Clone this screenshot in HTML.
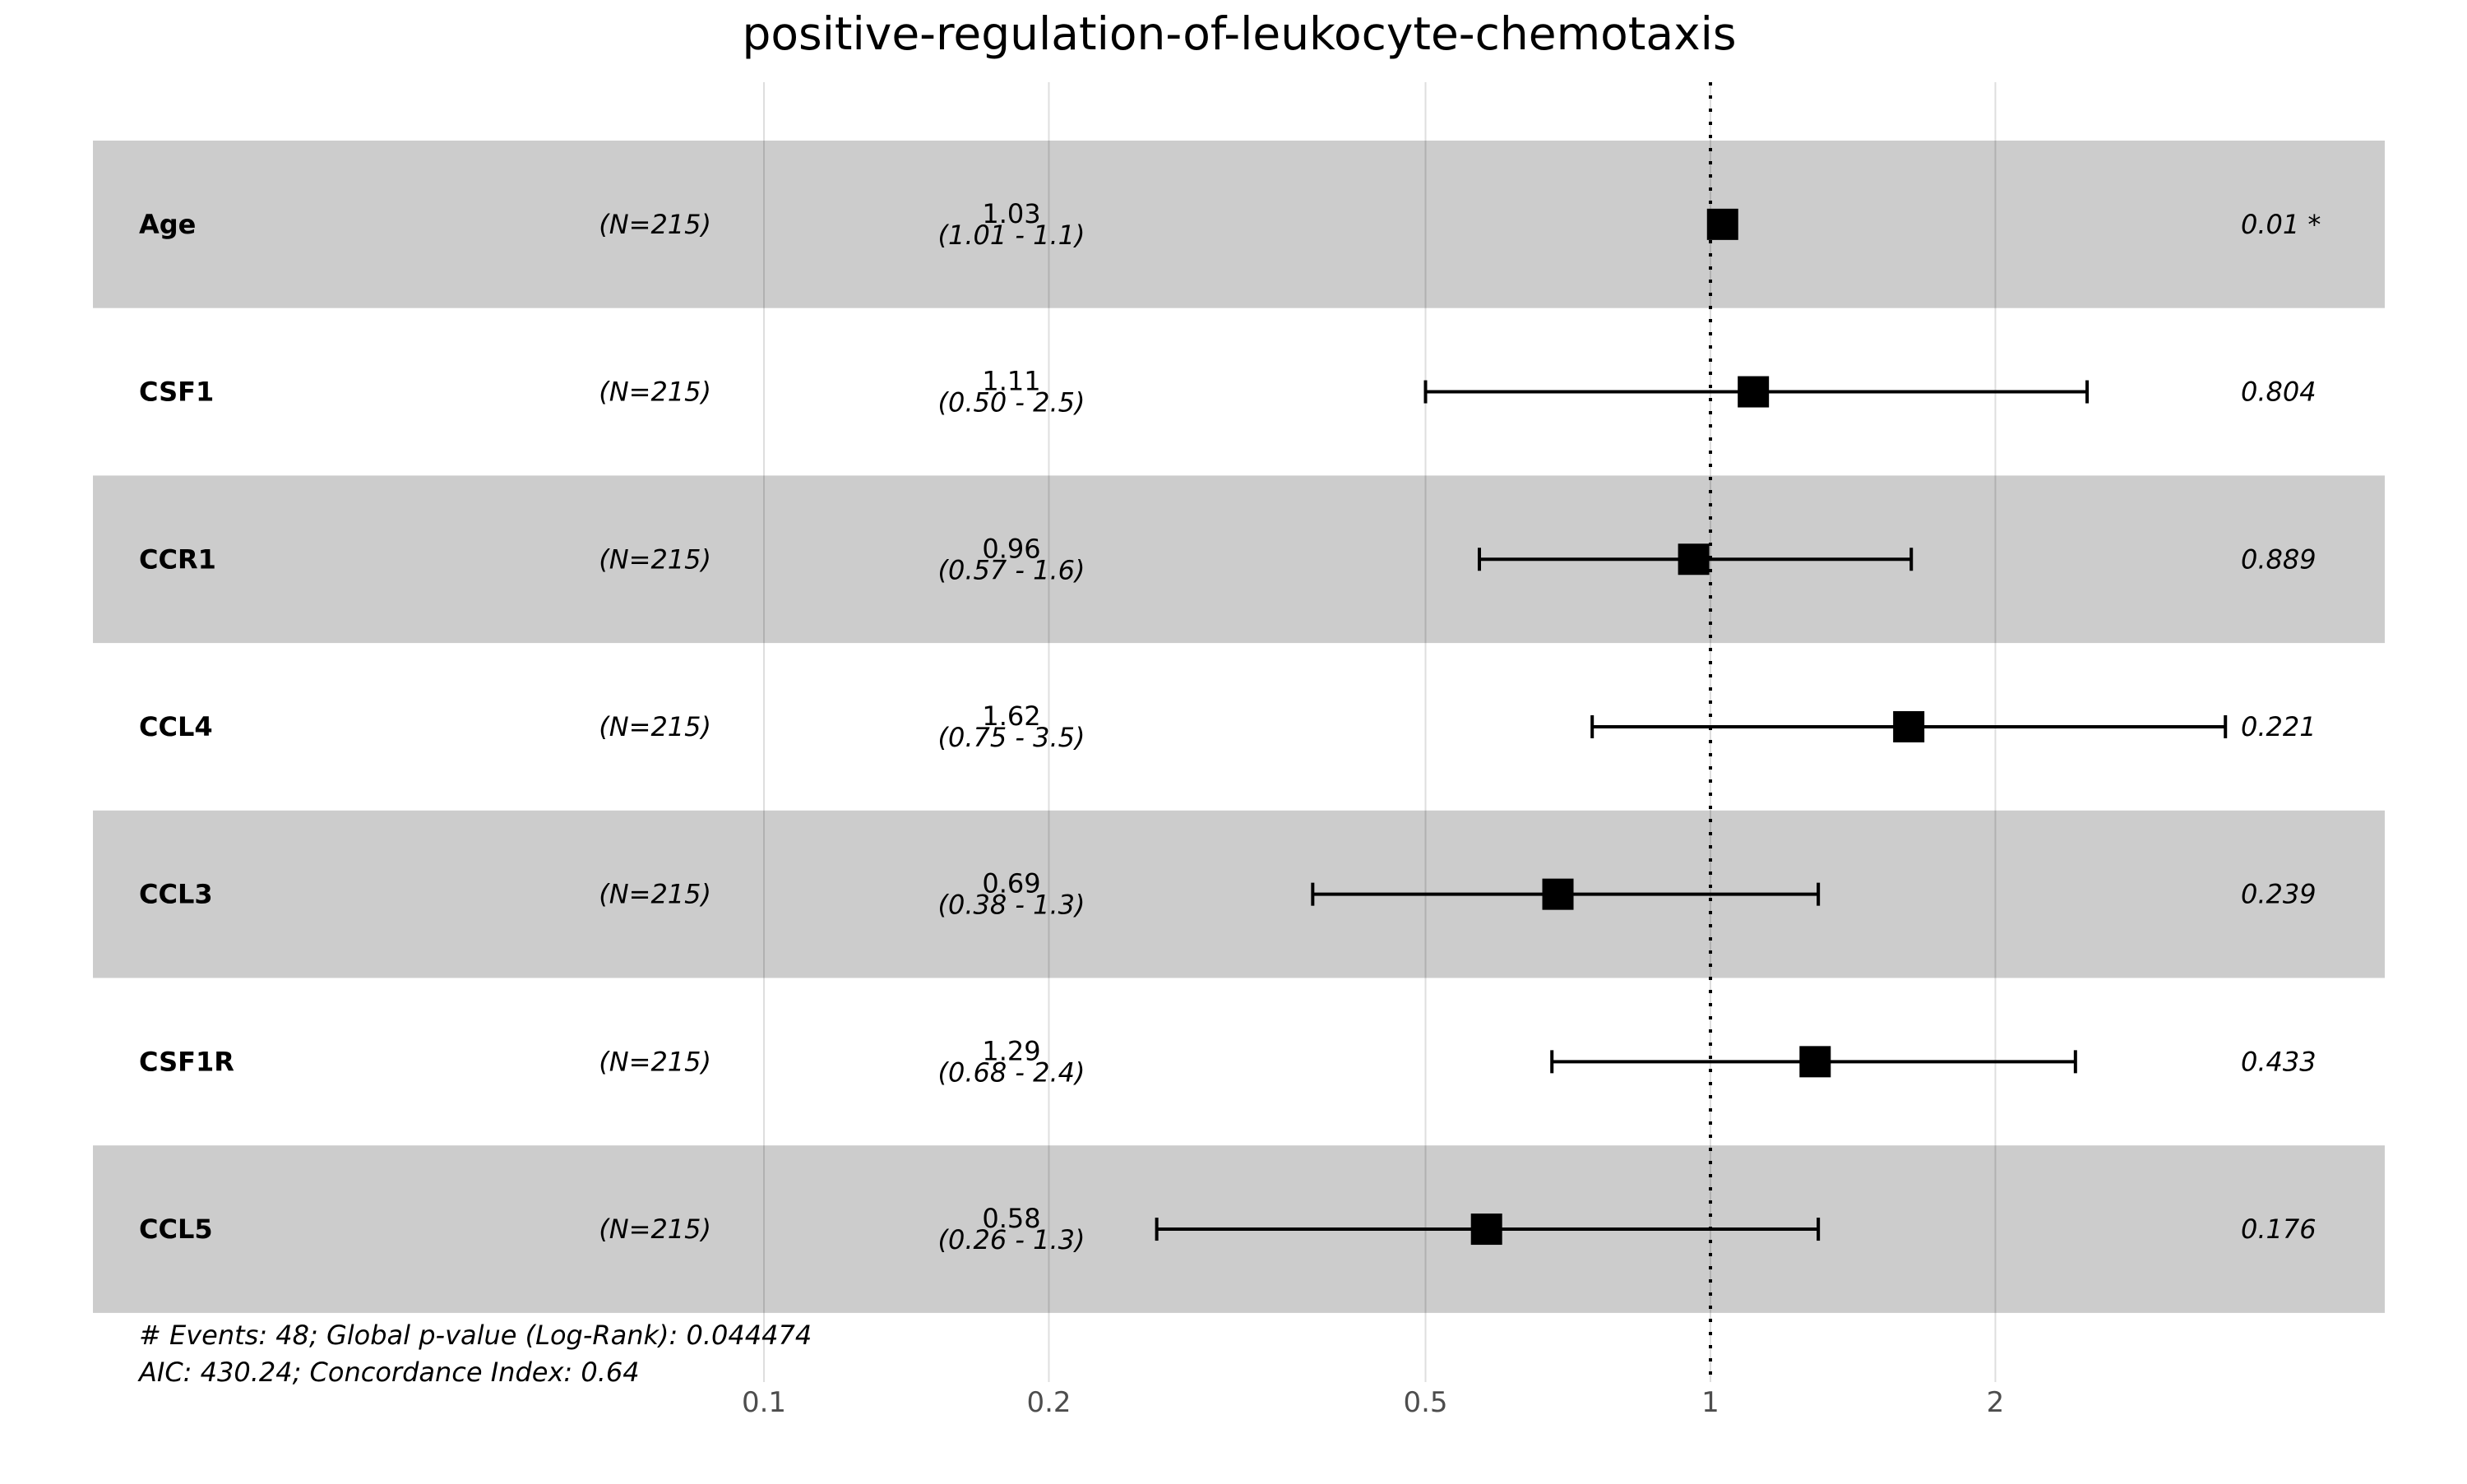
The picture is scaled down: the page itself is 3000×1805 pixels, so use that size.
<!DOCTYPE html>
<html><head><meta charset="utf-8"><style>
html,body{margin:0;padding:0;background:#fff}
svg text{font-family:"DejaVu Sans","Liberation Sans",sans-serif}
</style></head><body>
<svg id="chart" width="3000" height="1800" viewBox="0 0 3000 1800" xmlns="http://www.w3.org/2000/svg">
<text x="1507" y="60" font-size="55" text-anchor="middle" fill="#000">positive-regulation-of-leukocyte-chemotaxis</text>
<g id="bands"></g><g id="grid"></g><g id="marks"></g><g id="labels"></g>
<text x="169" y="1635" font-size="32" font-style="italic">&#35; Events: 48; Global p-value (Log-Rank): 0.044474</text>
<text x="169" y="1680" font-size="32" font-style="italic">AIC: 430.24; Concordance Index: 0.64</text>
</svg>
<script>
const names=["Age","CSF1","CCR1","CCL4","CCL3","CSF1R","CCL5"];
const hr=[1.03,1.11,0.96,1.62,0.69,1.29,0.58];
const lo=[1.01,0.50,0.57,0.75,0.38,0.68,0.26];
const hi=[1.05,2.5,1.63,3.5,1.3,2.43,1.3];
const hrText=["1.03","1.11","0.96","1.62","0.69","1.29","0.58"];
const ciText=["(1.01 - 1.1)","(0.50 - 2.5)","(0.57 - 1.6)","(0.75 - 3.5)","(0.38 - 1.3)","(0.68 - 2.4)","(0.26 - 1.3)"];
const pText=["0.01 *","0.804","0.889","0.221","0.239","0.433","0.176"];
const ticks=[0.1,0.2,0.5,1,2];
const tickLabels=["0.1","0.2","0.5","1","2"];
const NS="http://www.w3.org/2000/svg";
const X=v=>2080+1151*Math.log10(v);
const top0=171,rowH=203.7;
const Y=i=>top0+rowH*(i+0.5);
function mk(t,a,p){const e=document.createElementNS(NS,t);for(const k in a)e.setAttribute(k,a[k]);p.appendChild(e);return e;}
const bands=document.getElementById('bands'),grid=document.getElementById('grid'),marks=document.getElementById('marks'),labels=document.getElementById('labels');
names.forEach((n,i)=>{if(i%2===0){const r=mk('rect',{x:113,y:top0+rowH*i,width:2787,height:rowH,fill:'#cccccc'},bands);

}});
ticks.forEach((t,i)=>{const l=mk('line',{x1:X(t),x2:X(t),y1:100,y2:1681,stroke:'rgba(0,0,0,0.13)','stroke-width':2},grid);


const tx=mk('text',{x:X(t),y:1717,'font-size':34,'text-anchor':'middle',fill:'#4d4d4d'},grid);tx.textContent=tickLabels[i];

});
const ref=mk('line',{x1:X(1),x2:X(1),y1:100,y2:1681,stroke:'#000','stroke-width':4,'stroke-dasharray':'4 12'},grid);


names.forEach((n,i)=>{const y=Y(i);
const g=mk('g',{},marks);


mk('line',{x1:X(lo[i]),x2:X(hi[i]),y1:y,y2:y,stroke:'#000','stroke-width':4},g);
mk('line',{x1:X(lo[i]),x2:X(lo[i]),y1:y-14,y2:y+14,stroke:'#000','stroke-width':4},g);
mk('line',{x1:X(hi[i]),x2:X(hi[i]),y1:y-14,y2:y+14,stroke:'#000','stroke-width':4},g);
mk('rect',{x:X(hr[i])-19,y:y-19,width:38,height:38,fill:'#000'},g);
const a=mk('text',{x:169,y:y+11,'font-size':32,'font-weight':'bold'},labels);a.textContent=n;


const b=mk('text',{x:865,y:y+11,'font-size':32,'font-style':'italic','text-anchor':'end'},labels);b.textContent='(N=215)';


const c=mk('text',{x:1230,y:y-2,'font-size':32,'text-anchor':'middle'},labels);c.textContent=hrText[i];


const d=mk('text',{x:1230,y:y+24,'font-size':32,'font-style':'italic','text-anchor':'middle'},labels);d.textContent=ciText[i];


const p=mk('text',{x:2725,y:y+11,'font-size':32,'font-style':'italic'},labels);p.textContent=pText[i];

});
</script>
</body></html>
